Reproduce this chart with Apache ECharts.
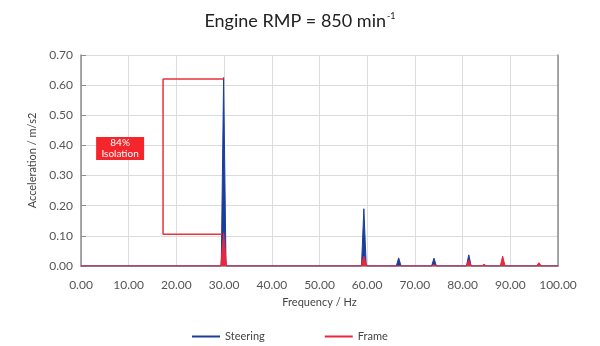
<!DOCTYPE html>
<html>
<head>
<meta charset="utf-8">
<script src="https://cdn.jsdelivr.net/npm/echarts@6/dist/echarts.min.js"></script>
<style>
  html, body { margin: 0; padding: 0; background: #fff; }
  #chart { width: 600px; height: 346px; }
</style>
</head>
<body>
<div id="chart"></div>
<script>
// Vibration spectrum at idle: steering wheel vs. frame acceleration
const steeringFreq = [0, 29.4, 29.9, 30.4, 58.8, 59.3, 59.8, 66.1, 66.6, 67.1, 73.5, 74.0, 74.5, 80.8, 81.3, 81.8, 100];
const steeringAcc  = [0, 0,    0.625, 0,   0,    0.19, 0,    0,    0.027, 0,   0,    0.026, 0,   0,    0.037, 0,   0];

const frameFreq = [0, 29.3, 29.9, 30.5, 58.7, 59.3, 59.9, 73.5, 74.0, 74.5, 80.8, 81.3, 81.8, 84.0, 84.5, 85.0, 87.9, 88.4, 88.9, 95.5, 96.0, 96.5, 100];
const frameAcc  = [0, 0,    0.11, 0,    0,    0.032, 0,   0,    0.005, 0,   0,    0.02, 0,    0,    0.006, 0,   0,    0.033, 0,   0,    0.011, 0,   0];

// Bracket marking the steering peak vs. frame peak at the 2nd order
const bracketFreq = [29.9, 17.2, 17.2, 29.5];
const bracketAcc  = [0.62, 0.62, 0.105, 0.105];

const isolationLabel = '84%\nIsolation';
const isolationAt = [8.2, 0.39];

const xTicks = { min: 0, max: 100, interval: 10 };
const yTicks = { min: 0, max: 0.7, interval: 0.1 };

const BLUE = '#1b3e9e';
const RED = '#e8283c';
const FONT = 'Lato, "Open Sans", sans-serif';

const zip = (xs, ys) => xs.map((x, i) => [x, ys[i]]);

const chart = echarts.init(document.getElementById('chart'), null, { renderer: 'canvas' });

chart.setOption({
  animation: false,
  textStyle: { fontFamily: FONT },
  title: {
    text: 'Engine RMP = 850 min{sup|-1}',
    left: 'center',
    top: 7,
    textStyle: {
      fontFamily: FONT,
      fontSize: 18,
      fontWeight: 'normal',
      color: '#222',
      rich: {
        sup: { fontSize: 9, color: '#222', verticalAlign: 'top', padding: [0, 0, 9, 1], fontFamily: FONT }
      }
    }
  },
  grid: { left: 81, right: 42, top: 55, bottom: 80 },
  legend: {
    left: 187,
    top: 326,
    itemGap: 60,
    itemWidth: 28,
    itemHeight: 2,
    icon: 'rect',
    textStyle: { fontFamily: FONT, fontSize: 11, color: '#444' },
    data: ['Steering', 'Frame']
  },
  xAxis: {
    type: 'value',
    min: xTicks.min,
    max: xTicks.max,
    interval: xTicks.interval,
    name: 'Frequency / Hz',
    nameLocation: 'middle',
    nameGap: 31,
    nameTextStyle: { fontFamily: FONT, fontSize: 11, color: '#444' },
    axisLine: { show: true, lineStyle: { color: '#8c8c8c', width: 1.5 } },
    axisTick: { show: false },
    axisLabel: {
      formatter: v => v.toFixed(2),
      margin: 13,
      fontFamily: FONT,
      fontSize: 12,
      color: '#555'
    },
    splitLine: { show: true, lineStyle: { color: '#dcdcdc', width: 1 } }
  },
  yAxis: [{
    type: 'value',
    min: yTicks.min,
    max: yTicks.max,
    interval: yTicks.interval,
    name: 'Acceleration / m/s2',
    nameLocation: 'middle',
    nameGap: 39,
    nameTextStyle: { fontFamily: FONT, fontSize: 11, color: '#444' },
    axisLine: { show: true, lineStyle: { color: '#8c8c8c', width: 1.5 } },
    axisTick: { show: true, inside: true, length: 5, lineStyle: { color: '#8c8c8c' } },
    axisLabel: {
      formatter: v => v.toFixed(2),
      margin: 8,
      fontFamily: FONT,
      fontSize: 12,
      color: '#555'
    },
    splitLine: { show: true, lineStyle: { color: '#dcdcdc', width: 1 } }
  }, {
    type: 'value',
    position: 'right',
    min: yTicks.min,
    max: yTicks.max,
    interval: yTicks.interval,
    axisLine: { show: true, lineStyle: { color: '#8c8c8c', width: 1.5 } },
    axisTick: { show: false },
    axisLabel: { show: false },
    splitLine: { show: false }
  }],
  series: [
    {
      name: 'Steering',
      type: 'line',
      data: zip(steeringFreq, steeringAcc),
      showSymbol: false,
      symbol: 'none',
      color: BLUE,
      lineStyle: { color: BLUE, width: 1 },
      areaStyle: { color: BLUE, opacity: 1 },
      z: 2
    },
    {
      name: 'Frame',
      type: 'line',
      data: zip(frameFreq, frameAcc),
      showSymbol: false,
      symbol: 'none',
      color: RED,
      lineStyle: { color: RED, width: 1 },
      areaStyle: { color: RED, opacity: 1 },
      z: 3
    },
    {
      name: 'bracket',
      type: 'line',
      data: zip(bracketFreq, bracketAcc),
      showSymbol: false,
      symbol: 'none',
      lineStyle: { color: '#e8333a', width: 1.5 },
      silent: true,
      z: 4,
      markPoint: {
        symbol: 'rect',
        symbolSize: [48, 23],
        itemStyle: { color: '#f5262b' },
        label: {
          show: true,
          formatter: isolationLabel,
          color: '#fff',
          fontFamily: FONT,
          fontSize: 10,
          lineHeight: 11
        },
        data: [{ coord: isolationAt }]
      }
    }
  ]
});
</script>
</body>
</html>
